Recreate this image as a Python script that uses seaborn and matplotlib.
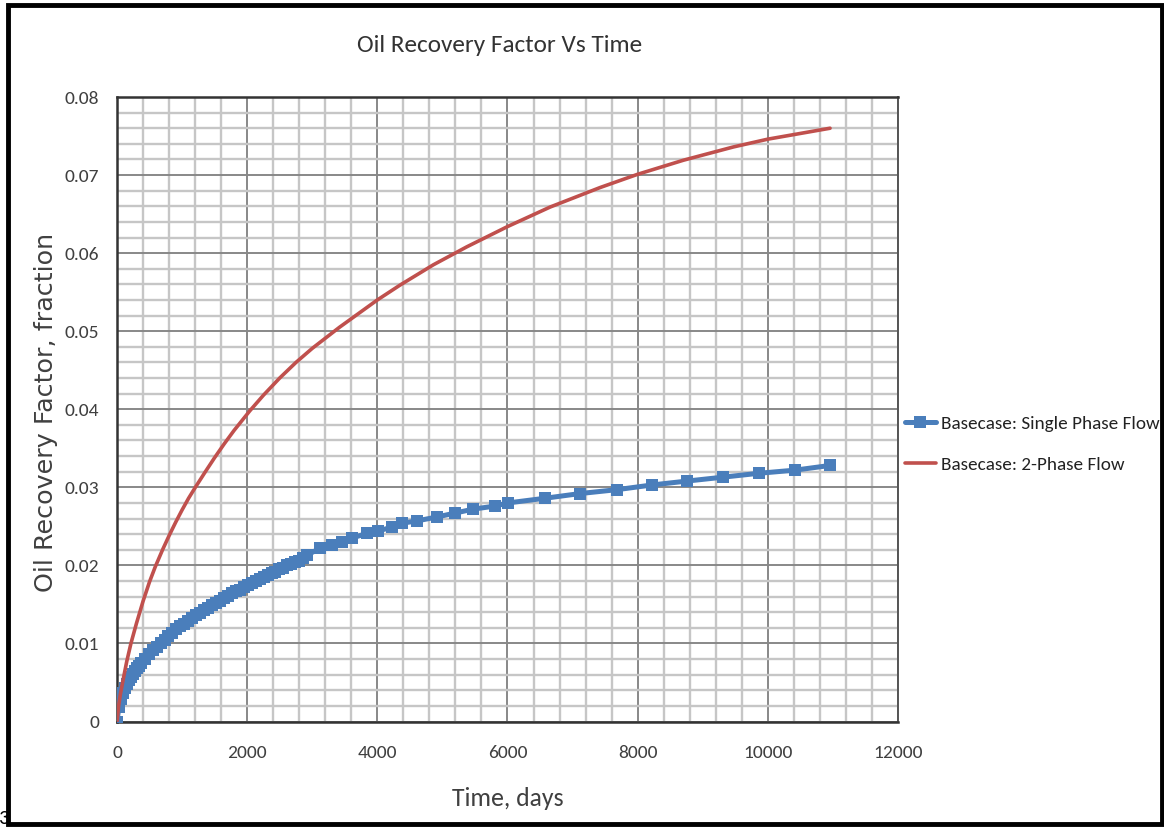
import matplotlib
matplotlib.use("Agg")
import matplotlib.pyplot as plt
import seaborn as sns
import pandas as pd
from matplotlib.ticker import MultipleLocator
from matplotlib.patches import Rectangle

# ---------------- data ----------------
single_days = [0, 30, 61, 91, 122, 152, 183, 213, 243, 274, 304, 335, 365, 426, 487,
               548, 609, 670, 730, 791, 852, 913, 974, 1035, 1096, 1157, 1217, 1278,
               1339, 1400, 1461, 1522, 1583, 1644, 1704, 1765, 1826, 1887, 1948, 2009,
               2070, 2130, 2191, 2252, 2313, 2374, 2435, 2496, 2557, 2617, 2678, 2739,
               2800, 2861, 2919, 3119, 3304, 3457, 3611, 3841, 4010, 4226, 4379, 4610,
               4917, 5194, 5470, 5808, 6008, 6577, 7114, 7683, 8221, 8758, 9312, 9865,
               10418, 10956]
single_rf = [0.0, 0.0019, 0.0029, 0.0037, 0.0043, 0.0048, 0.0053, 0.0057, 0.0061, 0.0065,
             0.0068, 0.0071, 0.0075, 0.0080, 0.0086, 0.0091, 0.0096, 0.0101, 0.0105,
             0.0110, 0.0114, 0.0118, 0.0122, 0.0125, 0.0129, 0.0133, 0.0136, 0.0139,
             0.0143, 0.0146, 0.0149, 0.0152, 0.0155, 0.0158, 0.0161, 0.0164, 0.0167,
             0.0169, 0.0172, 0.0175, 0.0177, 0.0180, 0.0183, 0.0185, 0.0188, 0.0190,
             0.0192, 0.0195, 0.0197, 0.0200, 0.0202, 0.0204, 0.0206, 0.0209, 0.0213,
             0.0222, 0.0226, 0.0230, 0.0235, 0.0241, 0.0244, 0.0249, 0.0254, 0.0257,
             0.0262, 0.0267, 0.0272, 0.0276, 0.0280, 0.0286, 0.0292, 0.0297, 0.0303,
             0.0308, 0.0313, 0.0318, 0.0322, 0.0328]

two_phase_days = [0, 25, 50, 100, 150, 214, 300, 400, 500, 587, 700, 800, 900, 1000,
                  1100, 1204, 1350, 1500, 1650, 1800, 2041, 2250, 2500, 2750, 3000,
                  3418, 4000, 4348, 4860, 5373, 6000, 6654, 7422, 8000, 8702, 9470,
                  10000, 10956]
two_phase_rf = [0.0, 0.0020, 0.0034, 0.0056, 0.0077, 0.0100, 0.0126, 0.0154, 0.0179,
                0.0198, 0.0220, 0.0238, 0.0255, 0.0271, 0.0286, 0.0300, 0.0319, 0.0338,
                0.0356, 0.0373, 0.0398, 0.0418, 0.0440, 0.0460, 0.0478, 0.0505, 0.0540,
                0.0559, 0.0585, 0.0608, 0.0634, 0.0659, 0.0684, 0.0701, 0.0719, 0.0736,
                0.0746, 0.0760]

label_single = "Basecase: Single Phase Flow"
label_two = "Basecase: 2-Phase Flow"
title_text = "Oil Recovery Factor Vs Time"
xlabel_text = "Time, days"
ylabel_text = "Oil Recovery Factor, fraction"

# ---------------- style ----------------
sns.set_style("white")
calibri_like = ["Carlito", "Open Sans Condensed", "Liberation Sans", "DejaVu Sans"]
plt.rcParams["font.family"] = calibri_like

BLUE = "#4a7ebb"
RED = "#c0504d"
TXT = "#404040"

W, H = 1164, 827
fig = plt.figure(figsize=(W / 100, H / 100), dpi=100)
ax = fig.add_axes([117 / W, 1 - 721.5 / H, (898 - 117) / W, (721.5 - 97) / H])

df1 = pd.DataFrame({"days": single_days, "rf": single_rf})
df2 = pd.DataFrame({"days": two_phase_days, "rf": two_phase_rf})

sns.lineplot(data=df1, x="days", y="rf", ax=ax, color=BLUE, linewidth=3.6,
             marker="s", markersize=8, markeredgewidth=0, label=label_single,
             zorder=3)
sns.lineplot(data=df2, x="days", y="rf", ax=ax, color=RED, linewidth=2.6,
             label=label_two, zorder=4)

ax.set_xlim(0, 12000)
ax.set_ylim(0, 0.08)
ax.xaxis.set_major_locator(MultipleLocator(2000))
ax.xaxis.set_minor_locator(MultipleLocator(400))
ax.set_yticks([0.01 * i for i in range(9)])
ax.set_yticklabels(["0"] + ["%.2f" % (0.01 * i) for i in range(1, 9)])
ax.yaxis.set_minor_locator(MultipleLocator(0.002))

ax.grid(which="minor", color="#c6c6c6", linewidth=1.7, zorder=0)
ax.grid(which="major", color="#888888", linewidth=1.4, zorder=1)
ax.set_axisbelow(True)

for side in ["left", "bottom", "top"]:
    ax.spines[side].set_color("#333333")
    ax.spines[side].set_linewidth(1.8)
ax.spines["right"].set_color("#555555")
ax.spines["right"].set_linewidth(1.4)

ax.tick_params(axis="both", which="major", direction="out", length=6, width=1.2,
               color="#555555", labelsize=14, labelcolor=TXT)
ax.tick_params(axis="both", which="minor", length=0)
ax.tick_params(axis="x", pad=11)
ax.tick_params(axis="y", pad=7)

ax.set_xlabel(xlabel_text, fontsize=18.5, color=TXT)
ax.xaxis.set_label_coords(0.5, (721.5 - 798) / 624.5)
ax.xaxis.label.set_va("center")

ax.set_ylabel(ylabel_text, fontsize=18.3, color=TXT, family=["DejaVu Sans"])
ax.yaxis.set_label_coords((46 - 117) / 781, (721.5 - 412) / 624.5)
ax.yaxis.label.set_va("center")

fig.text(500 / W, 1 - 46 / H, title_text, fontsize=18.2, color="#333333",
         ha="center", va="center")

leg = ax.legend(loc="center left", bbox_to_anchor=((905 - 117) / 781, (721.5 - 444) / 624.5),
                frameon=False, fontsize=13.8, labelspacing=1.27, handlelength=1.6,
                handletextpad=0.28, borderaxespad=0.0, borderpad=0.0)
for t in leg.get_texts():
    t.set_color("#222222")

# outer frame
fig.patches.append(Rectangle((8 / W, 3 / H), 1154 / W, 819 / H,
                             transform=fig.transFigure, fill=False,
                             edgecolor="black", linewidth=3.5, zorder=10))
fig.text(-0.002, 0.0, "3", fontsize=15, color="black", ha="left", va="bottom")

fig.savefig("out.png", dpi=100)
